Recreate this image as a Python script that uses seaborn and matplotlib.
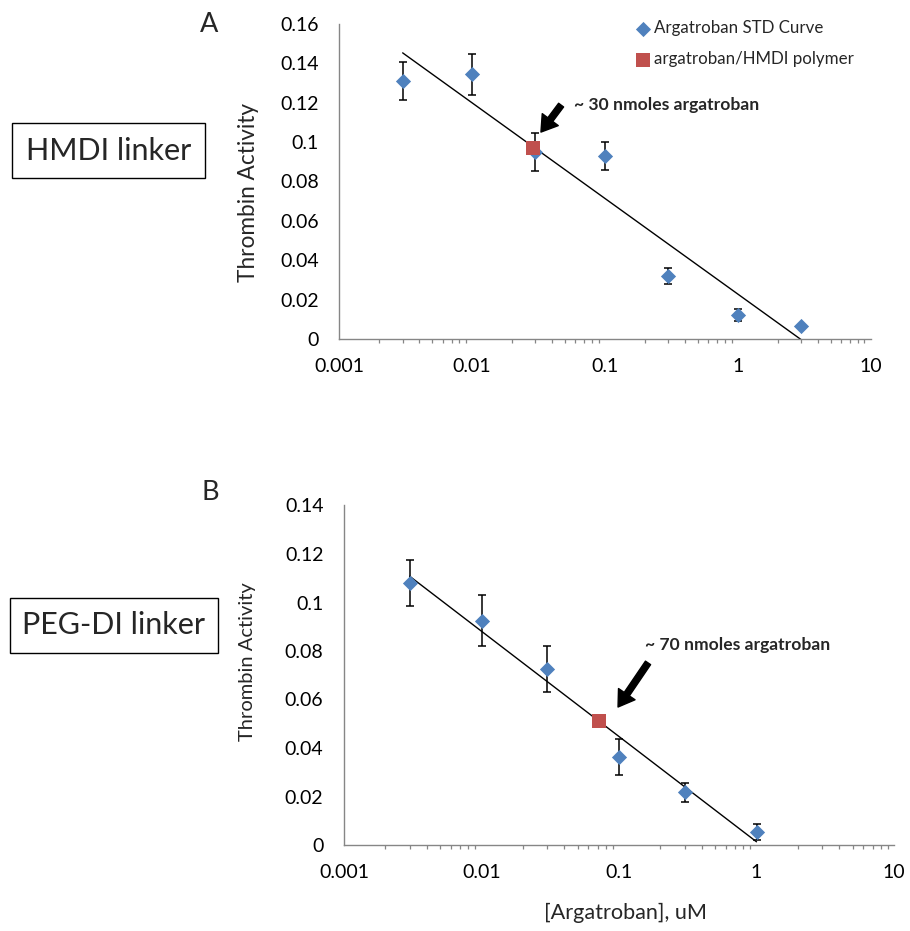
import numpy as np
import pandas as pd
import matplotlib
matplotlib.use("Agg")
import matplotlib.pyplot as plt
import seaborn as sns
from matplotlib.patches import Rectangle
from matplotlib.ticker import FixedLocator, LogLocator, NullFormatter

# panel A - HMDI linker
conc_a = [0.003, 0.01, 0.03, 0.1, 0.3, 1, 3]
act_a = [0.131, 0.1345, 0.095, 0.093, 0.032, 0.0122, 0.0066]
err_a = [0.0095, 0.0105, 0.0095, 0.0073, 0.0043, 0.003, 0.0]
poly_conc_a = [0.0288]
poly_act_a = [0.0968]

# panel B - PEG-DI linker
conc_b = [0.003, 0.01, 0.03, 0.1, 0.3, 1]
act_b = [0.1082, 0.0925, 0.0725, 0.0362, 0.0217, 0.0054]
err_b = [0.0095, 0.0104, 0.0094, 0.0075, 0.004, 0.0032]
poly_conc_b = [0.072]
poly_act_b = [0.0513]

x_ticks = [0.001, 0.01, 0.1, 1, 10]
x_labels = ["0.001", "0.01", "0.1", "1", "10"]
y_ticks_a = [0, 0.02, 0.04, 0.06, 0.08, 0.1, 0.12, 0.14, 0.16]
y_labels_a = ["0", "0.02", "0.04", "0.06", "0.08", "0.1", "0.12", "0.14", "0.16"]
y_ticks_b = [0, 0.02, 0.04, 0.06, 0.08, 0.1, 0.12, 0.14]
y_labels_b = ["0", "0.02", "0.04", "0.06", "0.08", "0.1", "0.12", "0.14"]

BLUE = "#4F81BD"
RED = "#C0504D"
AXIS_GRAY = "#868686"

sns.set_theme(style="white")
plt.rcParams["font.family"] = ["Lato", "DejaVu Sans"]

W, H = 910, 931
fig = plt.figure(figsize=(W / 100, H / 100), dpi=100)


def fx(px):
    return px / W


def fy(py):
    return 1 - py / H


def draw_panel(ax, conc, act, err, p_conc, p_act, yticks, ylabels, ymax, legend):
    df = pd.DataFrame({"conc": conc, "act": act, "err": err})
    ax.set_xscale("log")
    # log trendline through the standard curve
    sns.regplot(data=df, x="conc", y="act", logx=True, ci=None, scatter=False,
                truncate=True, color="black", line_kws=dict(lw=1.0, zorder=2), ax=ax)
    ax.errorbar(df["conc"], df["act"], yerr=df["err"], fmt="none", ecolor="black",
                elinewidth=1.1, capsize=3, capthick=1.1, zorder=3)
    sns.scatterplot(data=df, x="conc", y="act", marker="D", s=60, color=BLUE,
                    linewidth=0, zorder=4, ax=ax,
                    label="Argatroban STD Curve" if legend else None)
    sns.scatterplot(x=p_conc, y=p_act, marker="s", s=110, color=RED, linewidth=0,
                    zorder=5, ax=ax,
                    label="argatroban/HMDI polymer" if legend else None)

    ax.set_xlim(0.001, 10)
    ax.set_ylim(0, ymax)
    ax.xaxis.set_major_locator(FixedLocator(x_ticks))
    ax.set_xticklabels(x_labels)
    ax.xaxis.set_minor_locator(LogLocator(base=10, subs=np.arange(2, 10)))
    ax.xaxis.set_minor_formatter(NullFormatter())
    ax.set_yticks(yticks)
    ax.set_yticklabels(ylabels)
    ax.tick_params(axis="both", which="major", direction="out", length=4.8, width=0.9,
                   color=AXIS_GRAY, labelsize=14, labelcolor="black")
    ax.tick_params(axis="x", which="major", pad=9)
    ax.tick_params(axis="y", which="major", pad=10)
    ax.tick_params(axis="x", which="minor", direction="out", length=3, width=0.9,
                   color=AXIS_GRAY, bottom=True)
    for side in ["top", "right"]:
        ax.spines[side].set_visible(False)
    for side in ["left", "bottom"]:
        ax.spines[side].set_color(AXIS_GRAY)
        ax.spines[side].set_linewidth(1.0)
    ax.set_xlabel("")


# ---- panel A ----
ax_a = fig.add_axes([fx(339.3), fy(339), fx(870.5) - fx(339.3), fy(24) - fy(339)])
draw_panel(ax_a, conc_a, act_a, err_a, poly_conc_a, poly_act_a,
           y_ticks_a, y_labels_a, 0.16, True)
ax_a.set_ylabel("Thrombin Activity", fontsize=16.3, va="center")
ax_a.yaxis.set_label_coords(-0.170, (339 - 193) / 315)
ax_a.legend(loc="upper left", bbox_to_anchor=(fx(635), fy(20)), bbox_transform=fig.transFigure,
            frameon=False, fontsize=12.2, handlelength=0.9, handletextpad=0.2,
            labelspacing=0.9, borderpad=0, borderaxespad=0)
ax_a.annotate("", xy=(0.033, 0.1051), xytext=(0.0468, 0.1188),
              arrowprops=dict(arrowstyle="simple,head_length=0.7,head_width=0.9,tail_width=0.28",
                              color="black", mutation_scale=16, shrinkA=0, shrinkB=0))
ax_a.text(0.0585, 0.1188, "~ 30 nmoles argatroban", fontsize=12.6, fontweight="bold",
          ha="left", va="center")

# ---- panel B ----
ax_b = fig.add_axes([fx(344), fy(845), fx(894) - fx(344), fy(505.5) - fy(845)])
draw_panel(ax_b, conc_b, act_b, err_b, poly_conc_b, poly_act_b,
           y_ticks_b, y_labels_b, 0.14, False)
if ax_b.get_legend() is not None:
    ax_b.get_legend().remove()
ax_b.set_ylabel("Thrombin Activity", fontsize=14.5, va="center")
ax_b.yaxis.set_label_coords((247 - 344) / 550, (845 - 662) / 339.5)
ax_b.set_xlabel("[Argatroban], uM", fontsize=15.6, va="center")
ax_b.xaxis.set_label_coords((625 - 344) / 550, (845 - 913) / 339.5)
ax_b.annotate("", xy=(0.0984, 0.0569), xytext=(0.1626, 0.0751),
              arrowprops=dict(arrowstyle="simple,head_length=0.7,head_width=0.9,tail_width=0.28",
                              color="black", mutation_scale=16, shrinkA=0, shrinkB=0))
ax_b.text(0.1545, 0.0825, "~ 70 nmoles argatroban", fontsize=12.6, fontweight="bold",
          ha="left", va="center")

# panel letters and linker boxes
fig.text(fx(209), fy(24), "A", fontsize=19.5, ha="center", va="center")
fig.text(fx(210), fy(492), "B", fontsize=19.5, ha="center", va="center")

for (x0, y0, x1, y1), name in [((12, 123, 205, 178), "HMDI linker"),
                               ((10, 598, 218, 653), "PEG-DI linker")]:
    fig.patches.append(Rectangle((fx(x0), fy(y1)), fx(x1) - fx(x0), fy(y0) - fy(y1),
                                 transform=fig.transFigure, fill=False,
                                 edgecolor="black", linewidth=1.0))
    fig.text(fx((x0 + x1) / 2), fy((y0 + y1) / 2), name, fontsize=22,
             ha="center", va="center")

fig.savefig("out.png", dpi=100)
